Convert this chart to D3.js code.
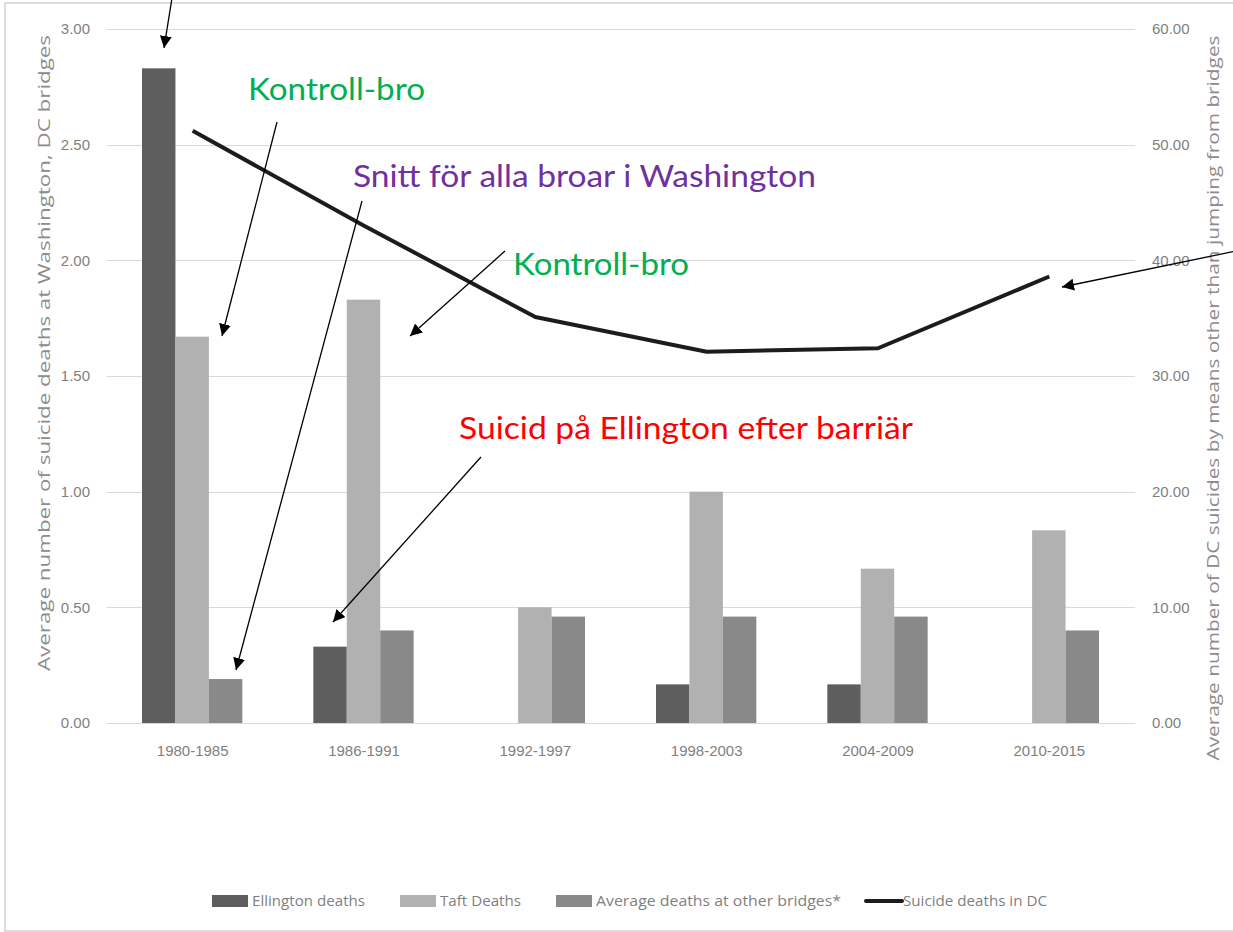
<!DOCTYPE html>
<html>
  <head>
    <meta http-equiv="Content-Type" content="text/html;charset=utf-8"/>
    <script src="https://cdn.jsdelivr.net/npm/d3@7"></script>
    <style type="text/css">

body {
  margin: 0;
  background: #fff;
}

svg {
  display: block;
  font-family: "Liberation Sans Narrow", "Open Sans", sans-serif;
}

.grid line {
  stroke: #d9d9d9;
  stroke-width: 1px;
  shape-rendering: crispEdges;
}

.grid path, .raxis path, .raxis line, .xaxis path, .xaxis line {
  display: none;
}

.tick text {
  fill: #7f7f7f;
  font-size: 15px;
}

.title {
  fill: #8c8c8c;
  font-family: "Open Sans", sans-serif;
  font-size: 16px;
}

.legend text {
  fill: #7f7f7f;
  font-size: 15px;
}

.note {
  font-family: Lato, "Open Sans", sans-serif;
  font-size: 31px;
}

.arrow {
  stroke: #000;
  stroke-width: 1.3px;
}

    </style>
  </head>
  <body>
    <svg></svg>

    <script type="text/javascript">

// periods on the x axis
var periods = ["1980-1985", "1986-1991", "1992-1997", "1998-2003", "2004-2009", "2010-2015"];

// bar series (left axis)
var ellington = [2.83, 0.33, 0, 0.167, 0.167, 0];
var taft = [1.67, 1.83, 0.50, 1.00, 0.667, 0.833];
var otherBridges = [0.19, 0.40, 0.46, 0.46, 0.46, 0.40];

// line series (right axis)
var dcSuicides = [51.2, 43.0, 35.1, 32.1, 32.4, 38.6];

var leftTicks = [0, 0.5, 1, 1.5, 2, 2.5, 3];
var rightTicks = [0, 10, 20, 30, 40, 50, 60];

var seriesNames = ["Ellington deaths", "Taft Deaths", "Average deaths at other bridges*"];
var lineName = "Suicide deaths in DC";
var leftTitle = "Average number of suicide deaths at Washington, DC bridges";
var rightTitle = "Average number of DC suicides by means other than jumping from bridges";

var W = 1233, H = 932;
var m = {top: 29, right: 98, bottom: 209, left: 107};
var w = W - m.left - m.right,
    h = H - m.top - m.bottom;

var colors = ["#5e5e5e", "#b1b1b1", "#898989"];

var svg = d3.select("svg")
    .attr("width", W)
    .attr("height", H);

svg.append("rect")
    .attr("width", W).attr("height", H)
    .attr("fill", "#fff");

// light frame around the picture
svg.append("rect")
    .attr("x", 5).attr("y", 3)
    .attr("width", W + 10).attr("height", H - 4)
    .attr("fill", "none")
    .attr("stroke", "#dcdcdc")
    .attr("stroke-width", 2);

var g = svg.append("g")
    .attr("transform", "translate(" + m.left + "," + m.top + ")");

var x0 = d3.scaleBand().domain(periods).range([0, w]);
var x1 = d3.scaleBand().domain(seriesNames).range([35, x0.bandwidth() - 36]);
var y = d3.scaleLinear().domain([0, 3]).range([h, 0]);
var y2 = d3.scaleLinear().domain([0, 60]).range([h, 0]);

// grid + left labels
g.append("g")
    .attr("class", "grid")
    .call(d3.axisLeft(y).tickValues(leftTicks).tickSize(-w).tickPadding(17).tickFormat(d3.format(".2f")));

g.append("g")
    .attr("class", "raxis")
    .attr("transform", "translate(" + w + ",0)")
    .call(d3.axisRight(y2).tickValues(rightTicks).tickSize(0).tickPadding(17).tickFormat(d3.format(".2f")));

g.append("g")
    .attr("class", "xaxis")
    .attr("transform", "translate(0," + h + ")")
    .call(d3.axisBottom(x0).tickSize(0).tickPadding(22));

// bars
var series = [ellington, taft, otherBridges];
series.forEach(function(vals, s) {
  g.append("g")
    .selectAll("rect")
    .data(vals)
    .enter().append("rect")
      .attr("x", function(d, i) { return x0(periods[i]) + x1(seriesNames[s]); })
      .attr("y", function(d) { return y(d); })
      .attr("width", x1.bandwidth())
      .attr("height", function(d) { return h - y(d); })
      .attr("fill", colors[s]);
});

// DC line
var line = d3.line()
    .x(function(d, i) { return x0(periods[i]) + x0.bandwidth() / 2; })
    .y(function(d) { return y2(d); });

g.append("path")
    .datum(dcSuicides)
    .attr("d", line)
    .attr("fill", "none")
    .attr("stroke", "#1c1c1c")
    .attr("stroke-width", 4)
    .attr("stroke-linejoin", "round");

// axis titles
svg.append("text")
    .attr("class", "title")
    .attr("transform", "translate(50,353) rotate(-90)")
    .attr("text-anchor", "middle")
    .attr("textLength", 636)
    .attr("lengthAdjust", "spacingAndGlyphs")
    .text(leftTitle);

svg.append("text")
    .attr("class", "title")
    .attr("transform", "translate(1219,398) rotate(-90)")
    .attr("text-anchor", "middle")
    .attr("textLength", 725)
    .attr("lengthAdjust", "spacingAndGlyphs")
    .text(rightTitle);

// legend
var legendItems = [
  {name: seriesNames[0], sx: 212, tx: 252, tw: 113, fill: colors[0]},
  {name: seriesNames[1], sx: 400, tx: 440, tw: 81, fill: colors[1]},
  {name: seriesNames[2], sx: 556, tx: 596, tw: 245, fill: colors[2]},
  {name: lineName, sx: 866, tx: 903, tw: 144, line: true}
];

var legend = svg.append("g").attr("class", "legend");
legendItems.forEach(function(it) {
  if (it.line) {
    legend.append("line")
      .attr("x1", it.sx).attr("x2", it.sx + 36)
      .attr("y1", 901).attr("y2", 901)
      .attr("stroke", "#1c1c1c").attr("stroke-width", 4)
      .attr("stroke-linecap", "round");
  } else {
    legend.append("rect")
      .attr("x", it.sx).attr("y", 895)
      .attr("width", 36).attr("height", 12)
      .attr("fill", it.fill);
  }
  legend.append("text")
    .attr("x", it.tx).attr("y", 906)
    .attr("textLength", it.tw)
    .attr("lengthAdjust", "spacingAndGlyphs")
    .text(it.name);
});

// annotations (Swedish notes with arrows)
svg.append("defs").append("marker")
    .attr("id", "head")
    .attr("viewBox", "0 0 10 10")
    .attr("refX", 10).attr("refY", 5)
    .attr("markerWidth", 12).attr("markerHeight", 12)
    .attr("markerUnits", "userSpaceOnUse")
    .attr("orient", "auto")
  .append("path")
    .attr("d", "M0,0L10,5L0,10z")
    .attr("fill", "#000");

var notes = [
  {text: "Kontroll-bro", color: "#00b050", x: 248, y: 100, len: 177},
  {text: "Snitt för alla broar i Washington", color: "#7030a0", x: 353, y: 187, len: 463},
  {text: "Kontroll-bro", color: "#00b050", x: 513, y: 275, len: 176},
  {text: "Suicid på Ellington efter barriär", color: "#ff0000", x: 459, y: 439, len: 454}
];

var arrows = [
  [172, -2, 164, 48],
  [277, 122, 222, 336],
  [362, 201, 236, 670],
  [505, 251, 410, 336],
  [481, 457, 333, 622],
  [1236, 251, 1062, 287]
];

svg.selectAll(".note")
    .data(notes)
  .enter().append("text")
    .attr("class", "note")
    .attr("x", function(d) { return d.x; })
    .attr("y", function(d) { return d.y; })
    .attr("fill", function(d) { return d.color; })
    .attr("textLength", function(d) { return d.len; })
    .attr("lengthAdjust", "spacingAndGlyphs")
    .text(function(d) { return d.text; });

svg.selectAll(".arrow")
    .data(arrows)
  .enter().append("line")
    .attr("class", "arrow")
    .attr("x1", function(d) { return d[0]; })
    .attr("y1", function(d) { return d[1]; })
    .attr("x2", function(d) { return d[2]; })
    .attr("y2", function(d) { return d[3]; })
    .attr("marker-end", "url(#head)");

    </script>
  </body>
</html>
